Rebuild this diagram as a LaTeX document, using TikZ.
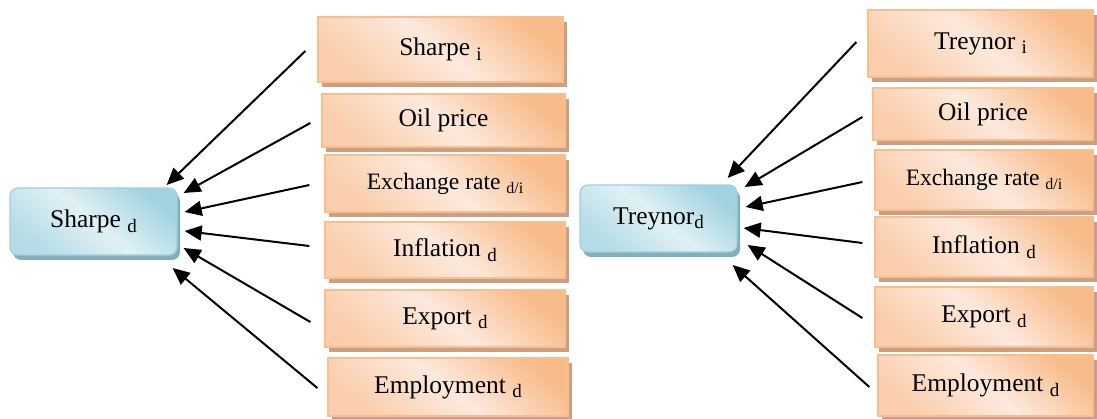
\documentclass[tikz,border=0pt]{standalone}
\usepackage{fontspec}
\setmainfont{Liberation Serif}
\usetikzlibrary{arrows.meta,calc,shadows}
\definecolor{orgEdge}{HTML}{F9BE8C}
\definecolor{orgDark}{HTML}{F8BC8B}
\definecolor{orgLight}{HTML}{FDE9DD}
\definecolor{orgShadow}{HTML}{C9A084}
\definecolor{bluEdge}{HTML}{9FD0DD}
\definecolor{bluDark}{HTML}{A2D3E0}
\definecolor{bluLight}{HTML}{E0F1F5}
\definecolor{bluShadow}{HTML}{86AEB9}
\newcommand{\lowsub}[1]{{\fontsize{19}{19}\selectfont\raisebox{-4.5pt}{#1}}}
\newcommand{\smallsub}[1]{{\fontsize{16}{16}\selectfont\raisebox{-4pt}{#1}}}
\begin{document}
\begin{tikzpicture}[x=1pt,y=-1pt,
  factor/.style={draw=orgEdge, line width=1.3pt,
    left color=orgDark, right color=orgDark!60!orgLight, middle color=orgLight,
    shading angle=-40,
    drop shadow={shadow xshift=4pt, shadow yshift=-5pt, fill=orgShadow, opacity=1},
    inner sep=0pt, font=\fontsize{25.5}{30}\selectfont},
  target/.style={draw=bluEdge, line width=1.3pt, rounded corners=8pt,
    left color=bluDark, right color=bluDark!70!bluLight, middle color=bluLight,
    shading angle=-40,
    drop shadow={shadow xshift=3pt, shadow yshift=-5pt, fill=bluShadow, opacity=1},
    inner sep=0pt, font=\fontsize{25.5}{30}\selectfont},
  arr/.style={line width=2pt, -{Triangle[length=17pt,width=15pt]}}]
\useasboundingbox (0,0) rectangle (1097,418);

% ---- Sharpe side ----
\node[target, minimum width=167pt, minimum height=67pt] (shd) at (93.5,221.5) {Sharpe \lowsub{d}};
\node[factor, minimum width=245pt, minimum height=65pt] (si)   at (440.5,49.5) {Sharpe \lowsub{i}};
\node[factor, minimum width=243pt, minimum height=53pt] (oil1) at (443.5,120.5) {Oil price};
\node[factor, minimum width=240pt, minimum height=57pt] (ex1)  at (445,183.5) {\fontsize{23.5}{26}\selectfont Exchange rate \smallsub{d/i}};
\node[factor, minimum width=240pt, minimum height=56pt] (inf1) at (445,250) {Inflation \lowsub{d}};
\node[factor, minimum width=240pt, minimum height=57pt] (exp1) at (445,318.5) {Export \lowsub{d}};
\node[factor, minimum width=240pt, minimum height=58pt] (emp1) at (448,387) {Employment \lowsub{d}};

\draw[arr] ($(si.west)+(-12,1.5)$)  -- ($(shd.east)+(-11,-36.5)$);
\draw[arr] ($(oil1.west)+(-11,2.5)$) -- ($(shd.east)+(6,-28.5)$);
\draw[arr] ($(ex1.west)+(-15,1.5)$)  -- ($(shd.east)+(7,-9.5)$);
\draw[arr] ($(inf1.west)+(-15,-4)$)  -- ($(shd.east)+(7,9.5)$);
\draw[arr] ($(exp1.west)+(-14,3.5)$) -- ($(shd.east)+(6,26.5)$);
\draw[arr] ($(emp1.west)+(-10,1)$)   -- ($(shd.east)+(-5,46.5)$);

% ---- Treynor side ----
\node[target, minimum width=157pt, minimum height=67pt] (trd) at (658.5,218.5) {Treynor\lowsub{d}};
\node[factor, minimum width=225pt, minimum height=67pt] (ti)   at (980.5,43.5) {Treynor \lowsub{i}};
\node[factor, minimum width=220pt, minimum height=52pt] (oil2) at (983,114) {Oil price};
\node[factor, minimum width=218pt, minimum height=60pt] (ex2)  at (984,180) {\fontsize{23.5}{26}\selectfont Exchange rate \smallsub{d/i}};
\node[factor, minimum width=218pt, minimum height=60pt] (inf2) at (984,247) {Inflation \lowsub{d}};
\node[factor, minimum width=218pt, minimum height=60pt] (exp2) at (984,317) {Export \lowsub{d}};
\node[factor, minimum width=215pt, minimum height=61pt] (emp2) at (985.5,385.5) {Employment \lowsub{d}};

\draw[arr] ($(ti.west)+(-11,-1.5)$)  -- ($(trd.east)+(-10,-40.5)$);
\draw[arr] ($(oil2.west)+(-10,3)$)   -- ($(trd.east)+(7,-31.5)$);
\draw[arr] ($(ex2.west)+(-12,2)$)    -- ($(trd.east)+(8,-11.5)$);
\draw[arr] ($(inf2.west)+(-12,-4)$)  -- ($(trd.east)+(6,9.5)$);
\draw[arr] ($(exp2.west)+(-12,1)$)   -- ($(trd.east)+(10,26.5)$);
\draw[arr] ($(emp2.west)+(-8,1.5)$)  -- ($(trd.east)+(-5,46.5)$);
\end{tikzpicture}
\end{document}
